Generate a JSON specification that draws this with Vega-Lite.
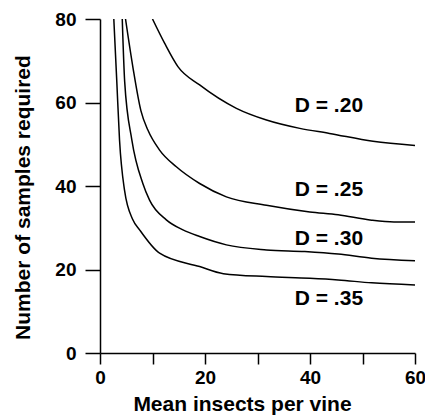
{
  "$schema": "https://vega.github.io/schema/vega-lite/v6.json",
  "autosize": "none",
  "width": 315,
  "height": 334,
  "padding": {"left": 100, "top": 19, "right": 10, "bottom": 62},
  "config": {"font": "Liberation Sans", "view": {"stroke": null}},
  "datasets": {
    "curves": [
      {"D": ".20", "x": 10.0, "y": 80},
      {"D": ".20", "x": 12.3, "y": 74.2},
      {"D": ".20", "x": 14.84, "y": 68.6},
      {"D": ".20", "x": 18.98, "y": 64.2},
      {"D": ".20", "x": 25.98, "y": 58.6},
      {"D": ".20", "x": 31.71, "y": 55.8},
      {"D": ".20", "x": 38.06, "y": 53.8},
      {"D": ".20", "x": 43.7, "y": 52.6},
      {"D": ".20", "x": 52.0, "y": 50.7},
      {"D": ".20", "x": 60, "y": 49.7},
      {"D": ".25", "x": 4.86, "y": 80},
      {"D": ".25", "x": 6.3, "y": 68.2},
      {"D": ".25", "x": 7.8, "y": 58},
      {"D": ".25", "x": 9.12, "y": 53.4},
      {"D": ".25", "x": 11.35, "y": 48.6},
      {"D": ".25", "x": 14.54, "y": 44.6},
      {"D": ".25", "x": 18.98, "y": 40.6},
      {"D": ".25", "x": 24.07, "y": 37.4},
      {"D": ".25", "x": 31.71, "y": 35.4},
      {"D": ".25", "x": 39.97, "y": 33.8},
      {"D": ".25", "x": 45.36, "y": 33.1},
      {"D": ".25", "x": 51.74, "y": 31.8},
      {"D": ".25", "x": 56, "y": 31.4},
      {"D": ".25", "x": 60, "y": 31.4},
      {"D": ".30", "x": 4.24, "y": 80},
      {"D": ".30", "x": 4.7, "y": 65},
      {"D": ".30", "x": 6.07, "y": 51.0},
      {"D": ".30", "x": 8.16, "y": 40.6},
      {"D": ".30", "x": 9.44, "y": 36.6},
      {"D": ".30", "x": 12.63, "y": 31.9},
      {"D": ".30", "x": 15.8, "y": 29.5},
      {"D": ".30", "x": 18.98, "y": 27.9},
      {"D": ".30", "x": 24.07, "y": 25.9},
      {"D": ".30", "x": 31.71, "y": 24.7},
      {"D": ".30", "x": 39.02, "y": 24.3},
      {"D": ".30", "x": 45.36, "y": 23.7},
      {"D": ".30", "x": 51.74, "y": 22.7},
      {"D": ".30", "x": 60, "y": 22.1},
      {"D": ".35", "x": 2.63, "y": 80},
      {"D": ".35", "x": 3.2, "y": 65},
      {"D": ".35", "x": 3.72, "y": 51.0},
      {"D": ".35", "x": 4.67, "y": 39.0},
      {"D": ".35", "x": 6.26, "y": 31.9},
      {"D": ".35", "x": 7.54, "y": 29.5},
      {"D": ".35", "x": 11.35, "y": 23.9},
      {"D": ".35", "x": 18.98, "y": 20.7},
      {"D": ".35", "x": 23.5, "y": 19.0},
      {"D": ".35", "x": 31.71, "y": 18.3},
      {"D": ".35", "x": 39.97, "y": 17.9},
      {"D": ".35", "x": 45.36, "y": 17.5},
      {"D": ".35", "x": 51.74, "y": 16.8},
      {"D": ".35", "x": 60, "y": 16.3}
    ],
    "labels": [
      {"label": "D = .20", "x": 37.1, "y": 57.7},
      {"label": "D = .25", "x": 37.1, "y": 37.6},
      {"label": "D = .30", "x": 37.1, "y": 25.9},
      {"label": "D = .35", "x": 37.1, "y": 11.5}
    ]
  },
  "layer": [
    {
      "data": {"name": "curves"},
      "mark": {"type": "line", "color": "black", "strokeWidth": 1.5, "interpolate": "monotone", "clip": true},
      "encoding": {
        "x": {
          "field": "x", "type": "quantitative",
          "scale": {"domain": [0, 60], "nice": false, "zero": false},
          "axis": {
            "title": "Mean insects per vine",
            "values": [0, 10, 20, 30, 40, 50, 60],
            "labelExpr": "datum.value % 20 == 0 ? datum.label : ''",
            "grid": false, "domainColor": "black", "domainWidth": 1.5,
            "tickColor": "black", "tickWidth": 1.5, "tickSize": 11,
            "labelFontSize": 19, "labelFontWeight": "bold", "labelColor": "black",
            "labelPadding": 4, "labelFlush": false, "labelOverlap": false,
            "titleFontSize": 21, "titleFontWeight": "bold", "titleColor": "black",
            "titleX": 142, "titleY": 57, "titleBaseline": "alphabetic", "titleAnchor": "middle", "titleAlign": "center"
          }
        },
        "y": {
          "field": "y", "type": "quantitative",
          "scale": {"domain": [0, 80], "nice": false},
          "axis": {
            "title": "Number of samples required",
            "values": [0, 20, 40, 60, 80],
            "grid": false, "domainColor": "black", "domainWidth": 1.5,
            "tickColor": "black", "tickWidth": 1.5, "tickSize": 15,
            "labelFontSize": 19, "labelFontWeight": "bold", "labelColor": "black",
            "labelPadding": 9, "labelFlush": false, "labelOverlap": false,
            "titleFontSize": 21, "titleFontWeight": "bold", "titleColor": "black",
            "titleX": -77, "titleY": 178, "titleBaseline": "middle", "titleAnchor": "middle", "titleAlign": "center", "titleAngle": -90
          }
        },
        "detail": {"field": "D"}
      }
    },
    {
      "data": {"name": "labels"},
      "mark": {"type": "text", "align": "left", "baseline": "alphabetic", "fontSize": 21, "fontWeight": "bold", "color": "black"},
      "encoding": {
        "x": {"field": "x", "type": "quantitative"},
        "y": {"field": "y", "type": "quantitative"},
        "text": {"field": "label"}
      }
    }
  ]
}
